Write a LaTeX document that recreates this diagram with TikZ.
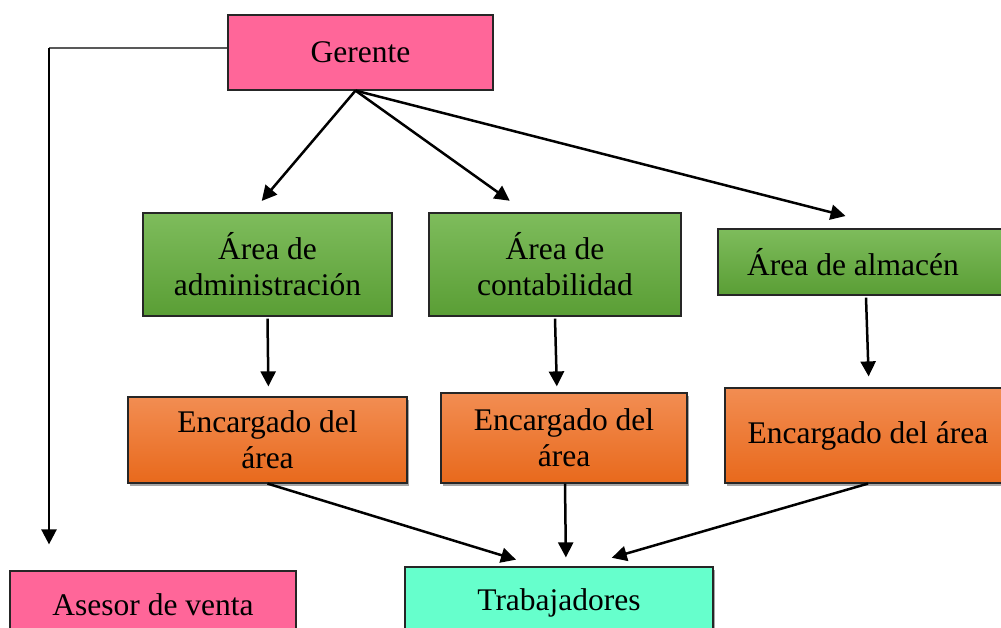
\documentclass[tikz,border=0pt]{standalone}
\usepackage{fontspec}
\setmainfont{Liberation Serif}
\usetikzlibrary{arrows.meta,shadows,calc}
\definecolor{pinkbox}{HTML}{FF6699}
\definecolor{greentop}{HTML}{7EBC5C}
\definecolor{greenbot}{HTML}{5A9E35}
\definecolor{orangetop}{HTML}{F28D52}
\definecolor{orangebot}{HTML}{E8691C}
\definecolor{cyanbox}{HTML}{66FFCC}
\begin{document}
\begin{tikzpicture}[x=1pt,y=1pt,
  base/.style={draw=black!85, line width=1.2pt, inner sep=0pt, align=center,
    font=\fontsize{31.5}{36}\selectfont},
  pinkb/.style={base, fill=pinkbox},
  greenb/.style={base, top color=greentop, bottom color=greenbot},
  shad/.style={drop shadow={shadow xshift=2pt, shadow yshift=-3pt, opacity=0.35, fill=black}},
  orangeb/.style={base, shad, top color=orangetop, bottom color=orangebot},
  cyanb/.style={base, shad, fill=cyanbox},
  arr/.style={-{Triangle[length=15pt,width=15pt]}, line width=2.5pt, black}]
\useasboundingbox (0,0) rectangle (1001,627);
\clip (0,0) rectangle (1001,627);

% nodes
\node[pinkb, minimum width=265, minimum height=75] (g) at (360.5,574.5) {Gerente};
\node[greenb, minimum width=249, minimum height=103] (adm) at (267.5,362.5) {Área de\\administración};
\node[greenb, minimum width=252, minimum height=103] (con) at (555,362.5) {Área de\\contabilidad};
\node[greenb, minimum width=292, minimum height=66] (alm) at (864,365) {Área de almacén\hspace*{22pt}};
\node[orangeb, minimum width=279, minimum height=86] (e1) at (267.5,187) {Encargado del\\área};
\node[orangeb, minimum width=246, minimum height=90] (e2) at (564,189) {Encargado del\\área};
\node[orangeb, minimum width=286, minimum height=95] (e3) at (868,191.5) {Encargado del área};
\node[cyanb, minimum width=308, minimum height=72] (tr) at (559,24) {Trabajadores};
\node[pinkb, minimum width=286, minimum height=68] (as) at (153,22) {Asesor de venta};

\coordinate (corner) at (49,579);

% connectors
\draw[line width=1.3pt, black!65] ([yshift=4.5pt]g.west) -- (corner);
\draw[arr, shorten >=26pt] (corner) -- (corner |- as.north);

\draw[arr, shorten >=15pt] ([xshift=-5pt]g.south) -- ([xshift=-15.5pt]adm.north);
\draw[arr, shorten >=20pt] ([xshift=-5pt]g.south) -- ([xshift=-29pt]con.north);
\draw[arr, shorten >=50pt] ([xshift=-5pt]g.south) -- ([xshift=30pt]alm.north);

\draw[arr, shorten >=10pt] ([yshift=-2pt]adm.south) -- ([xshift=1pt]e1.north);
\draw[arr, shorten >=6pt] ([yshift=-2pt]con.south) -- ([xshift=-7pt]e2.north);
\draw[arr, shorten >=11pt] ([xshift=2pt,yshift=-2pt]alm.south) -- ([xshift=1pt]e3.north);

\draw[arr, shorten >=23pt] (e1.south) -- ([xshift=-21pt]tr.north);
\draw[arr, shorten >=9pt] ([xshift=1pt]e2.south) -- ([xshift=7pt]tr.north);
\draw[arr, shorten >=31pt] (e3.south) -- ([xshift=23pt]tr.north);
\end{tikzpicture}
\end{document}
